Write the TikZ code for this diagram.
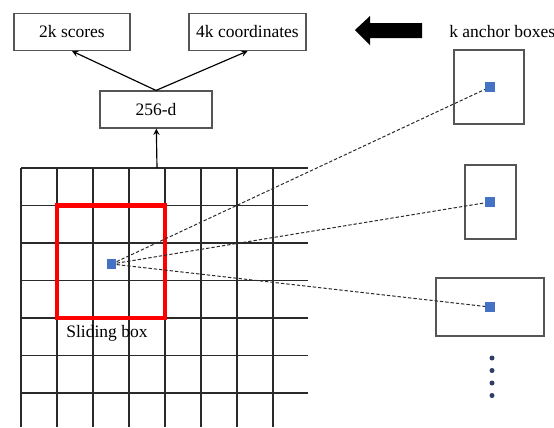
\documentclass[tikz,border=0pt]{standalone}
\usepackage{fontspec}
\setmainfont{Liberation Serif}
\usetikzlibrary{positioning, arrows}
\definecolor{boxgray}{HTML}{555555}
\definecolor{gridgray}{HTML}{2A2A2A}
\definecolor{anchorblue}{HTML}{4472C4}
\definecolor{dotnavy}{HTML}{2F3E66}
\tikzstyle{outbox} = [rectangle, minimum height=22.2pt, text centered, draw=boxgray, line width=0.7pt, inner sep=2pt, font=\fontsize{10.5}{12}\selectfont]
\tikzstyle{anchorbox} = [rectangle, draw=boxgray, line width=0.7pt, inner sep=0pt]
\tikzstyle{marker} = [rectangle, fill=anchorblue, minimum size=5.8pt, inner sep=0pt]
\tikzstyle{arrow} = [line width=0.7pt,->,>=stealth]
\tikzstyle{ray} = [draw=gridgray, line width=0.6pt, dash pattern=on 2pt off 1.2pt]

\begin{document}
\begin{tikzpicture}[x=0.6pt, y=-0.6pt]
\useasboundingbox (0,0) rectangle (554,427);

% Grid
\foreach \gx in {21,57,93,129,165,201,237,273}
  \draw [gridgray, line width=0.75pt] (\gx,168) -- (\gx,427);
\foreach \gy in {168,205.5,243,280.5,318,355.5,393}
  \draw [gridgray, line width=0.75pt] (21,\gy) -- (308,\gy);
\coordinate (gridtop) at (157,168);

% Sliding box
\draw [red, line width=2.6pt] (57,205.5) rectangle (165,318);
\node (slidelbl) at (107,333) [font=\fontsize{10.5}{12}\selectfont] {Sliding box};
\node (centre) [marker] at (111.5,264) {};

% Output nodes
\node (feat) [outbox, minimum width=67.2pt] at (156,109.5) {256-d};
\node (scores) [outbox, minimum width=69.6pt] at (72,32) {2k scores};
\node (coords) [outbox, minimum width=70.2pt] at (247.5,32) {4k coordinates};

% Big arrow and title
\fill [black] (355,30) -- (370,16) -- (370,23) -- (422,23) -- (422,38) -- (370,38) -- (370,45) -- cycle;
\node (title) [anchor=west, inner sep=0pt, font=\fontsize{10.5}{12}\selectfont] at (449,32) {k anchor boxes};

% Anchor boxes
\node (box1) [anchorbox, minimum width=42pt, minimum height=44.4pt] at (489,87) {};
\node (box2) [anchorbox, minimum width=30.6pt, minimum height=44.4pt] at (490.5,202) {};
\node (box3) [anchorbox, minimum width=64.8pt, minimum height=34.8pt] at (490,307) {};
\node (a1) [marker] at (490,87) {};
\node (a2) [marker] at (490,202) {};
\node (a3) [marker] at (490,307) {};

% More boxes
\foreach \dy in {358,370.5,383,395.5}
  \fill [dotnavy] (492,\dy) circle (1.5pt);

% Drawing arrows
\draw [arrow] (gridtop) -- (feat);
\draw [arrow] (feat.north) -- (scores.south);
\draw [arrow] (feat.north) -- (coords.south);
\draw [ray] (centre) -- (a1);
\draw [ray] (centre) -- (a2);
\draw [ray] (centre) -- (a3);

\end{tikzpicture}
\end{document}
